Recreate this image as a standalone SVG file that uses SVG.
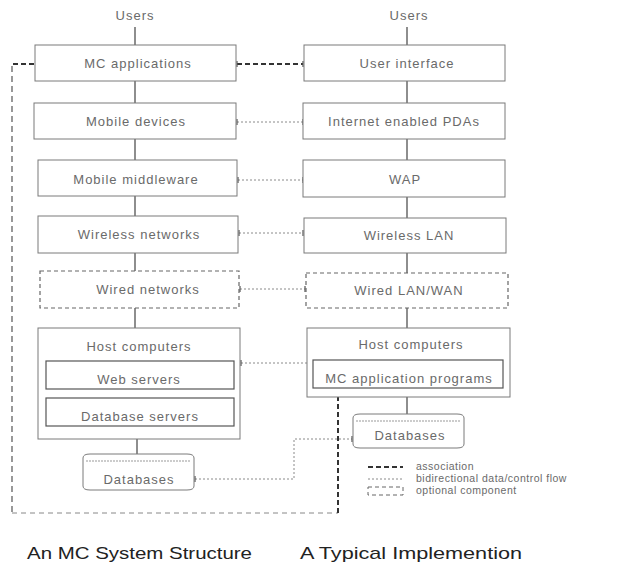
<svg xmlns="http://www.w3.org/2000/svg" width="621" height="563" viewBox="0 0 621 563">
<defs>
<style>
.bg{fill:#ffffff}
.box{fill:#ffffff;stroke:#7a7a7a;stroke-width:1}
.inner{fill:#ffffff;stroke:#555555;stroke-width:1.2}
.opt{fill:#ffffff;stroke:#666666;stroke-width:1.2;stroke-dasharray:4 3}
.t{font-family:"Liberation Sans",Arial,sans-serif;font-size:13px;fill:#6a6a6a;text-anchor:middle;letter-spacing:1px}
.lg{font-family:"Liberation Sans",Arial,sans-serif;font-size:10.5px;fill:#6a6a6a;letter-spacing:0.5px}
.cap{font-family:"Liberation Sans",Arial,sans-serif;font-size:17px;fill:#222222}
.v{stroke:#444444;stroke-width:1.2;fill:none}
.flow{stroke:#8a8a8a;stroke-width:1;stroke-dasharray:2 2;fill:none}
.assoc{stroke:#333333;stroke-width:2;stroke-dasharray:5 3;fill:none}
.assoc2{stroke:#555555;stroke-width:1.2;stroke-dasharray:6 4;fill:none}
.thin{stroke:#888888;stroke-width:1;stroke-dasharray:5 4;fill:none}
</style>
<marker id="tk" markerWidth="4" markerHeight="6" refX="2" refY="3" orient="auto" markerUnits="userSpaceOnUse">
<path d="M2,0 L2,6" stroke="#555" stroke-width="1.2"/>
</marker>
<marker id="ar" markerWidth="6" markerHeight="6" refX="5" refY="3" orient="auto" markerUnits="userSpaceOnUse">
<path d="M0,0 L6,3 L0,6 z" fill="#333"/>
</marker>
</defs>
<rect class="bg" x="0" y="0" width="621" height="563"/>

<g id="connectors">
<path class="v" d="M135,27 V45 M135,81 V103 M135,139 V160 M135,196 V216 M135,253 V271 M135,308 V328 M137,426 V454"/>
<path class="v" d="M407,27 V45 M407,81 V103 M407,139 V160 M407,197 V218 M407,253 V273 M407,308 V328 M407,388 V414"/>
<path class="assoc" d="M237,64 H303" marker-start="url(#tk)" marker-end="url(#tk)"/>
<path class="assoc" d="M34,64 H12"/>
<path class="assoc2" d="M12,66 V513"/>
<path class="thin" d="M12,513 H338"/>
<path class="assoc" d="M338,513 V392" marker-end="url(#ar)"/>
<path class="flow" d="M237,122 H303" marker-start="url(#tk)" marker-end="url(#tk)"/>
<path class="flow" d="M238,180 H303" marker-start="url(#tk)" marker-end="url(#tk)"/>
<path class="flow" d="M239,233 H303" marker-start="url(#tk)" marker-end="url(#tk)"/>
<path class="flow" d="M240,289 H305" marker-start="url(#tk)" marker-end="url(#tk)"/>
<path class="flow" d="M241,363 H312" marker-start="url(#tk)" marker-end="url(#tk)"/>
<path class="flow" d="M195,479 H294 V439 H352" marker-start="url(#tk)" marker-end="url(#tk)"/>
</g>

<text class="t" x="135" y="20">Users</text>
<text class="t" x="409" y="20">Users</text>

<g id="mc-applications"><rect class="box" x="35" y="45" width="201" height="36"/><text class="t" x="138" y="68">MC applications</text></g>
<g id="mobile-devices"><rect class="box" x="34" y="103" width="202" height="36"/><text class="t" x="136" y="126">Mobile devices</text></g>
<g id="mobile-middleware"><rect class="box" x="38" y="160" width="199" height="36"/><text class="t" x="136" y="184">Mobile middleware</text></g>
<g id="wireless-networks"><rect class="box" x="38" y="216" width="200" height="37"/><text class="t" x="139" y="239">Wireless networks</text></g>
<g id="wired-networks"><rect class="opt" x="40" y="271" width="199" height="37"/><text class="t" x="148" y="294">Wired networks</text></g>
<g id="host-computers-left"><rect class="box" x="38" y="328" width="202" height="111"/><text class="t" x="139" y="351">Host computers</text></g>
<g id="web-servers"><rect class="inner" x="46" y="361" width="188" height="28"/><text class="t" x="139" y="384">Web servers</text></g>
<g id="database-servers"><rect class="inner" x="46" y="398" width="188" height="28"/><text class="t" x="140" y="421">Database servers</text></g>
<g id="databases-left"><path class="box" d="M83,458 Q83,454 90,454 H187 Q194,454 194,458 V486 Q194,490 187,490 H90 Q83,490 83,486 Z"/><path d="M86,461 H191" stroke="#999" stroke-width="1" stroke-dasharray="2 1"/><text class="t" x="139" y="484">Databases</text></g>

<g id="user-interface"><rect class="box" x="304" y="45" width="201" height="36"/><text class="t" x="407" y="68">User interface</text></g>
<g id="internet-pdas"><rect class="box" x="303" y="103" width="202" height="36"/><text class="t" x="404" y="126">Internet enabled PDAs</text></g>
<g id="wap"><rect class="box" x="303" y="160" width="202" height="37"/><text class="t" x="405" y="184">WAP</text></g>
<g id="wireless-lan"><rect class="box" x="304" y="218" width="202" height="35"/><text class="t" x="409" y="240">Wireless LAN</text></g>
<g id="wired-lan-wan"><rect class="opt" x="306" y="273" width="202" height="35"/><text class="t" x="409" y="295">Wired LAN/WAN</text></g>
<g id="host-computers-right"><rect class="box" x="307" y="328" width="203" height="69"/><text class="t" x="411" y="349">Host computers</text></g>
<g id="mc-application-programs"><rect class="inner" x="313" y="360" width="190" height="28"/><text class="t" x="409" y="383">MC application programs</text></g>
<g id="databases-right"><path class="box" d="M353,418 Q353,414 360,414 H457 Q464,414 464,418 V444 Q464,448 457,448 H360 Q353,448 353,444 Z"/><path d="M356,421 H461" stroke="#999" stroke-width="1" stroke-dasharray="2 1"/><text class="t" x="410" y="440">Databases</text></g>

<g id="legend">
<path class="assoc" d="M368,467 H403"/>
<text class="lg" x="416" y="470">association</text>
<path class="flow" d="M368,479 H403"/>
<text class="lg" x="416" y="482">bidirectional data/control flow</text>
<rect class="opt" x="368" y="487" width="35" height="8" style="stroke-width:1"/>
<text class="lg" x="416" y="494">optional component</text>
</g>

<text class="cap" x="27" y="559" textLength="225" lengthAdjust="spacingAndGlyphs">An MC System Structure</text>
<text class="cap" x="300" y="559" textLength="222" lengthAdjust="spacingAndGlyphs">A Typical Implemention</text>
</svg>
